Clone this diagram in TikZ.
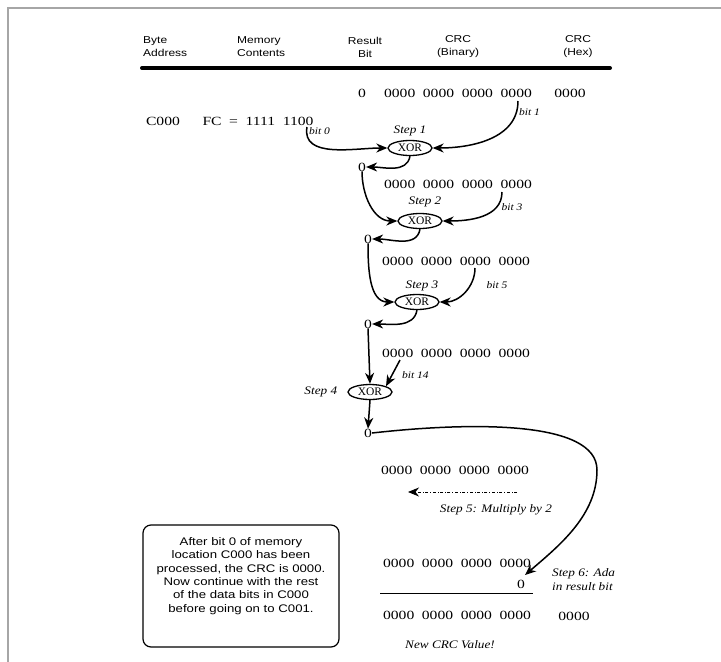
\documentclass[tikz,border=0pt]{standalone}
\usepackage{fontspec}
\setmainfont{Liberation Serif}
\newfontfamily\digitfont[FakeStretch=1.25,WordSpace=1.95]{Liberation Serif}
\newfontfamily\labelfont[FakeStretch=1.15]{Liberation Serif}
\newfontfamily\headfont[FakeStretch=1.2]{Liberation Sans}
\usetikzlibrary{arrows.meta,positioning,shapes.geometric}

\tikzset{
  num/.style={font=\digitfont\fontsize{12.5}{14}\selectfont, inner sep=0pt},
  head/.style={font=\headfont\fontsize{10}{13}\selectfont, inner sep=0pt},
  steplabel/.style={font=\labelfont\itshape\fontsize{11.5}{14}\selectfont, inner sep=0pt},
  bitlabel/.style={font=\labelfont\itshape\fontsize{10}{12}\selectfont, inner sep=0pt},
  xorgate/.style={draw, ellipse, line width=1.3pt, minimum width=44pt, minimum height=15pt,
    inner sep=0pt, font=\fontsize{11.5}{12}\selectfont},
  flow/.style={->, line width=1.5pt}
}

\begin{document}
\begin{tikzpicture}[x=1pt, y=-1pt, >={Stealth[length=11pt,width=9pt,inset=3.5pt]}]
    \useasboundingbox (0,0) rectangle (721,662);
    % 外框
    \draw[gray!70, line width=1.5pt] (8,662) -- (8,8) -- (721,8);

    % 表头
    \node[head, anchor=west, align=left] (hbyte) at (143,47) {Byte\\Address};
    \node[head, anchor=west, align=left] (hmem) at (237,47) {Memory\\Contents};
    \node[head, align=center] (hres) at (365,47) {Result\\Bit};
    \node[head, align=center] (hbin) at (458,47) {CRC\\(Binary)};
    \node[head, align=center] (hhex) at (578,47) {CRC\\(Hex)};
    \draw[line width=4pt, line cap=round] (142,68) -- (610,68);

    % 初始值
    \node[num] (r0) at (362,93) {0};
    \node[num] (c0) at (458,93) {0000 0000 0000 0000};
    \node[num] (h0) at (570,93) {0000};
    \node[num] (addr) at (163,121) {C000};
    \node[num] (mem) at (258,121) {FC = 1111 1100};

    % Step 1
    \node[xorgate] (x1) at (410,148) {XOR};
    \node[steplabel] (s1) at (410,131) {Step 1};
    \coordinate (b0) at (307,127);
    \coordinate (b1) at (518,101);
    \node[bitlabel, anchor=west] (lb0) at (309,131) {bit 0};
    \node[bitlabel, anchor=west] (lb1) at (519,112) {bit 1};
    \draw[flow] (b0) to[out=-100, in=180] (x1.west);
    \draw[flow] (b1) to[out=-90, in=0] (x1.east);
    \node[num] (o1) at (362,167) {0};
    \draw[flow] (x1.south) to[out=-100, in=0] (o1.east);

    % Step 2
    \node[num] (c2) at (458,184) {0000 0000 0000 0000};
    \node[xorgate] (x2) at (420,221) {XOR};
    \node[steplabel] (s2) at (425,202) {Step 2};
    \coordinate (b3) at (502,192);
    \node[bitlabel] (lb3) at (512,207) {bit 3};
    \draw[flow] (o1.south) to[out=-90, in=180] (x2.west);
    \draw[flow] (b3) to[out=-90, in=0] (x2.east);
    \node[num] (o2) at (368,239) {0};
    \draw[flow] (x2.south) to[out=-100, in=0] (o2.east);

    % Step 3
    \node[num] (c3) at (456,261) {0000 0000 0000 0000};
    \node[xorgate] (x3) at (417,302) {XOR};
    \node[steplabel] (s3) at (422,286) {Step 3};
    \coordinate (b5) at (475,268);
    \node[bitlabel] (lb5) at (497,285) {bit 5};
    \draw[flow] (o2.south) to[out=-90, in=180] (x3.west);
    \draw[flow] (b5) to[out=-90, in=0] (x3.east);
    \node[num] (o3) at (368,324) {0};
    \draw[flow] (x3.south) to[out=-100, in=0] (o3.east);

    % Step 4
    \node[num] (c4) at (456,353) {0000 0000 0000 0000};
    \node[xorgate] (x4) at (370,392) {XOR};
    \node[steplabel, left=10pt of x4] (s4) {Step 4};
    \coordinate (b14) at (400,360);
    \node[bitlabel, anchor=west] (lb14) at (402,375) {bit 14};
    \draw[flow] (o3.south) -- (x4.north);
    \draw[flow] (b14) -- (x4.north east);
    \node[num] (o4) at (368,433) {0};
    \draw[flow] (x4.south) -- (o4.north);

    % Step 5
    \node[num] (c5) at (455,470) {0000 0000 0000 0000};
    \coordinate (m5a) at (517,492);
    \coordinate (m5b) at (408,492);
    \draw[->, dash dot, line width=0.9pt] (m5a) -- (m5b);
    \node[steplabel] (s5) at (496,510) {Step 5: Multiply by 2};

    % Step 6
    \node[num] (c6) at (457,563) {0000 0000 0000 0000};
    \node[num] (r6) at (521,584) {0};
    \coordinate (tip6) at (525,575);
    \draw[flow] (o4.east) .. controls (470,422) and (597,420) .. (597,470)
        .. controls (597,515) and (560,545) .. (tip6);
    \node[steplabel, anchor=west, align=left] (s6) at (552,580) {Step 6: Ada\\in result bit};
    \draw[line width=1pt] (380,593) -- (533,593);
    \node[num] (c7) at (457,615) {0000 0000 0000 0000};
    \node[num] (h7) at (574,616) {0000};
    \node[steplabel] (newcrc) at (450,645) {New CRC Value!};

    % 说明框
    \draw[line width=1.2pt, rounded corners=8pt] (143,525) rectangle (339,647);
    \node[font=\headfont\fontsize{11}{13.3}\selectfont, align=center] (note) at (241,576)
        {After bit 0 of memory\\location C000 has been\\processed, the CRC is 0000.\\Now continue with the rest\\of the data bits in C000\\before going on to C001.};
\end{tikzpicture}
\end{document}
